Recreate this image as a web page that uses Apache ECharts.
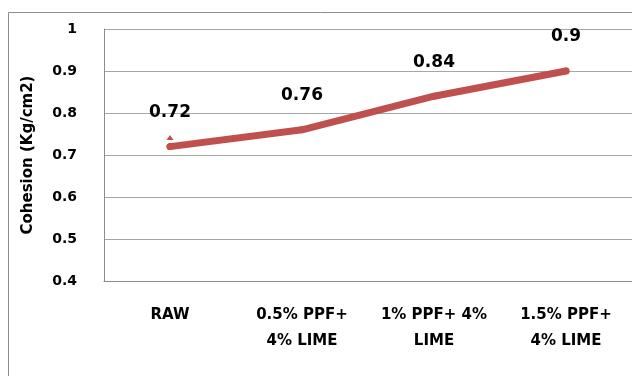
<!DOCTYPE html>
<html>
<head>
<meta charset="utf-8">
<script src="https://cdn.jsdelivr.net/npm/echarts@6/dist/echarts.min.js"></script>
<style>
  html, body { margin: 0; padding: 0; background: #fff; }
  #chart { width: 632px; height: 376px; }
</style>
</head>
<body>
<div id="chart"></div>
<script>
// Cohesion of soil mixes
const categories = ['RAW', '0.5% PPF+\n4% LIME', '1% PPF+ 4%\nLIME', '1.5% PPF+\n4% LIME'];
const cohesion = [0.72, 0.76, 0.84, 0.9];
const yTicks = { min: 0.4, max: 1, interval: 0.1 };
const yTitle = 'Cohesion (Kg/cm2)';

const font = '"DejaVu Sans", sans-serif';
const chart = echarts.init(document.getElementById('chart'));

chart.setOption({
  animation: false,
  backgroundColor: '#fff',
  graphic: [{
    type: 'polyline',
    shape: { points: [[8.5, 380], [8.5, 12.5], [640, 12.5]] },
    style: { stroke: '#8c8c8c', lineWidth: 1, fill: null }
  }],
  grid: { left: 104, top: 29, width: 532, height: 252, containLabel: false },
  xAxis: {
    type: 'category',
    data: categories,
    boundaryGap: true,
    axisLine: { show: true, lineStyle: { color: '#8c8c8c', width: 1 } },
    axisTick: { show: false },
    axisLabel: {
      color: '#000', fontFamily: font, fontWeight: 'bold', fontSize: 15,
      lineHeight: 26, margin: 21, interval: 0
    }
  },
  yAxis: {
    type: 'value',
    min: yTicks.min, max: yTicks.max, interval: yTicks.interval,
    name: yTitle,
    nameLocation: 'middle',
    nameGap: 68,
    nameRotate: 90,
    nameTextStyle: { color: '#000', fontFamily: font, fontWeight: 'bold', fontSize: 15 },
    axisLine: { show: true, lineStyle: { color: '#8c8c8c', width: 1 } },
    axisTick: { show: false },
    splitLine: { show: true, lineStyle: { color: '#a6a6a6', width: 1 } },
    axisLabel: {
      color: '#000', fontFamily: font, fontWeight: 'bold', fontSize: 14, margin: 27,
      formatter: v => (Math.round(v * 10) / 10).toString()
    }
  },
  series: [{
    type: 'line',
    data: cohesion,
    symbol: 'circle',
    symbolSize: 7,
    showSymbol: true,
    itemStyle: { color: '#C0504D' },
    lineStyle: { color: '#C0504D', width: 7, cap: 'round', join: 'round' },
    label: {
      show: true, position: 'top', distance: 22,
      color: '#000', fontFamily: font, fontWeight: 'bold', fontSize: 17,
      formatter: p => p.value.toString()
    },
    markPoint: {
      silent: true,
      symbol: 'triangle',
      symbolSize: [7, 5],
      symbolOffset: [0, -9],
      itemStyle: { color: '#C0504D' },
      label: { show: false },
      data: [{ coord: [0, cohesion[0]] }]
    }
  }]
});
</script>
</body>
</html>
